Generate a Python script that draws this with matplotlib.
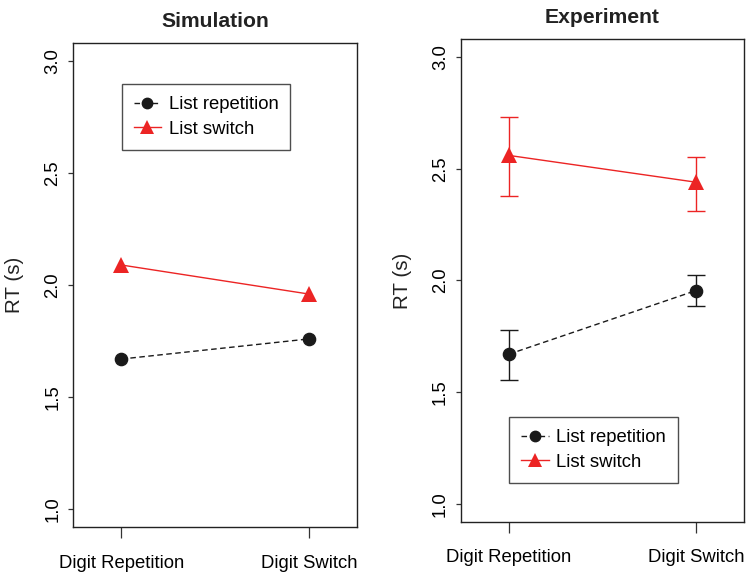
import matplotlib
matplotlib.use("Agg")
import matplotlib.pyplot as plt
import numpy as np

plt.rcParams['font.family'] = ['Liberation Sans', 'DejaVu Sans']

# data
conditions = ["Digit Repetition", "Digit Switch"]
sim_rep = [1.67, 1.76]
sim_switch = [2.09, 1.96]

exp_rep = [1.67, 1.955]
exp_rep_lo = [1.555, 1.885]
exp_rep_hi = [1.78, 2.025]
exp_switch = [2.56, 2.44]
exp_switch_lo = [2.38, 2.31]
exp_switch_hi = [2.73, 2.555]

yticks = [1.0, 1.5, 2.0, 2.5, 3.0]

red = '#ec2424'
black = '#1a1a1a'
fs = 13.3

fig = plt.figure(figsize=(7.47, 5.75), dpi=100)
ax1 = fig.add_axes([0.0981, 0.0835, 0.3802, 0.8412])
ax2 = fig.add_axes([0.6171, 0.0927, 0.3788, 0.8390])

x = np.arange(1, len(conditions) + 1)


def style(ax, title):
    ax.set_xlim(0.744, 2.256)
    ax.set_ylim(0.92, 3.08)
    ax.set_xticks(x)
    ax.set_xticklabels(conditions, fontsize=fs)
    ax.set_yticks(yticks)
    ax.set_yticklabels(["%.1f" % v for v in yticks], fontsize=fs,
                       rotation=90, va='center')
    ax.tick_params(axis='x', length=8, width=0.9, pad=12, color='#333333')
    ax.tick_params(axis='y', length=3.6, width=0.9, pad=5, color='#333333')
    for s in ax.spines.values():
        s.set_linewidth(1.0)
        s.set_color('#222222')
    ax.set_title(title, fontsize=15.2, fontweight='bold', pad=12, color='#222222')
    ax.set_ylabel("RT (s)", fontsize=14.8, color='#222222')
    ax.yaxis.set_label_coords(-0.172, 0.5)


def draw(ax, rep, sw, loc):
    ax.plot(x, rep, color=black, lw=1.0, dashes=(4, 2.5), marker='o',
            markersize=8.8, label="List repetition")
    ax.plot(x, sw, color=red, lw=1.0, marker='^', markersize=11.5,
            markeredgewidth=0, label="List switch")
    ax.legend(loc='upper left', bbox_to_anchor=loc, borderaxespad=0,
              fontsize=fs, frameon=True, fancybox=False, edgecolor='#222222',
              handlelength=1.5, handletextpad=0.4, borderpad=0.65,
              labelspacing=0.4, markerscale=0.85, numpoints=1)
    ax.get_legend().get_frame().set_linewidth(1.0)


style(ax1, "Simulation")
draw(ax1, sim_rep, sim_switch, (0.170, 0.915))

style(ax2, "Experiment")
rep = np.array(exp_rep)
sw = np.array(exp_switch)
ax2.errorbar(x, rep, yerr=[rep - np.array(exp_rep_lo), np.array(exp_rep_hi) - rep],
             fmt='none', ecolor=black, elinewidth=1.0, capsize=6.2, capthick=1.0)
ax2.errorbar(x, sw, yerr=[sw - np.array(exp_switch_lo), np.array(exp_switch_hi) - sw],
             fmt='none', ecolor=red, elinewidth=1.0, capsize=6.2, capthick=1.0)
draw(ax2, exp_rep, exp_switch, (0.170, 0.2164))

fig.savefig("out.png", dpi=100)
